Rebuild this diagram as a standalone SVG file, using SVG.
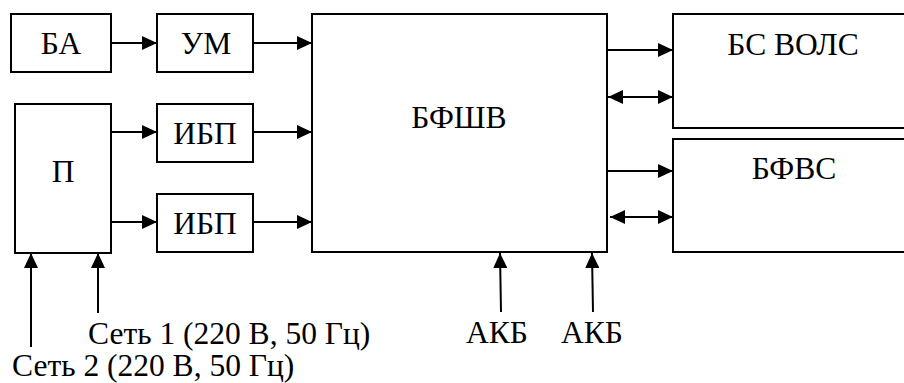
<svg xmlns="http://www.w3.org/2000/svg" width="904" height="383" viewBox="0 0 904 383">
<style>
.box{fill:#fff;stroke:#000;stroke-width:2}
.t{font-family:'Liberation Serif','Times New Roman',serif;font-size:31.5px;fill:#000}
.m{text-anchor:middle}
.c{stroke:#000;stroke-width:2;fill:none}
.a{marker-end:url(#ah)}
.b{marker-start:url(#as);marker-end:url(#ah)}
</style>
<defs>
<marker id="ah" markerUnits="userSpaceOnUse" markerWidth="16" markerHeight="14" refX="15" refY="7" orient="auto"><path d="M0,0 L15,7 L0,14 z" fill="#000"/></marker>
<marker id="as" markerUnits="userSpaceOnUse" markerWidth="16" markerHeight="14" refX="0" refY="7" orient="auto"><path d="M15,0 L0,7 L15,14 z" fill="#000"/></marker>
</defs>
<rect width="904" height="383" fill="#fff"/>
<g id="ba"><rect class="box" x="11" y="14" width="100" height="58"/><text class="t m" x="61" y="54">БА</text></g>
<g id="um"><rect class="box" x="157" y="14" width="96" height="58"/><text class="t m" x="206" y="54">УМ</text></g>
<g id="p"><rect class="box" x="15" y="104" width="96" height="149"/><text class="t m" x="63" y="182">П</text></g>
<g id="ibp1"><rect class="box" x="157" y="104" width="96" height="58"/><text class="t m" x="205" y="144">ИБП</text></g>
<g id="ibp2"><rect class="box" x="157" y="194" width="96" height="58"/><text class="t m" x="205" y="234">ИБП</text></g>
<g id="bfshv"><rect class="box" x="312" y="14" width="295" height="238"/><text class="t m" x="459" y="128">БФШВ</text></g>
<g id="bsvols"><rect class="box" x="673" y="14" width="240" height="114"/><text class="t m" x="793" y="55">БС ВОЛС</text></g>
<g id="bfvs"><rect class="box" x="673" y="139" width="240" height="113"/><text class="t m" x="794" y="179">БФВС</text></g>
<g id="labels">
<text class="t" x="88" y="344">Сеть 1 (220 В, 50 Гц)</text>
<text class="t" x="12" y="376">Сеть 2 (220 В, 50 Гц)</text>
<text class="t m" x="497" y="343">АКБ</text>
<text class="t m" x="592" y="343">АКБ</text>
</g>
<g id="connectors">
<line class="c a" x1="111" y1="43" x2="157" y2="43"/>
<line class="c a" x1="253" y1="43" x2="312" y2="43"/>
<line class="c a" x1="111" y1="132" x2="157" y2="132"/>
<line class="c a" x1="111" y1="222" x2="157" y2="222"/>
<line class="c a" x1="253" y1="132" x2="312" y2="132"/>
<line class="c a" x1="253" y1="222" x2="312" y2="222"/>
<line class="c a" x1="607" y1="50" x2="673" y2="50"/>
<line class="c b" x1="608" y1="97" x2="673" y2="97"/>
<line class="c a" x1="607" y1="171" x2="673" y2="171"/>
<line class="c b" x1="610" y1="217" x2="673" y2="217"/>
<line class="c a" x1="31" y1="347" x2="31" y2="253"/>
<line class="c a" x1="98" y1="313" x2="98" y2="253"/>
<line class="c a" x1="501" y1="312" x2="500" y2="253"/>
<line class="c a" x1="593" y1="312" x2="592" y2="253"/>
</g>
</svg>
